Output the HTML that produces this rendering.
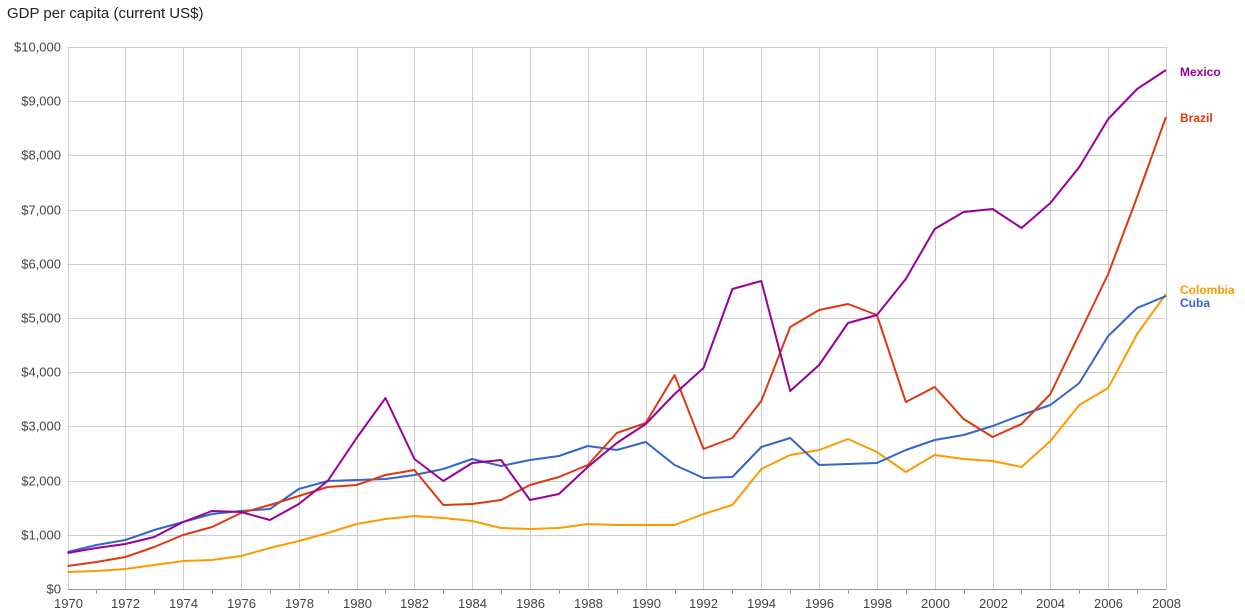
<!DOCTYPE html>
<html><head><meta charset="utf-8"><style>html,body{margin:0;padding:0;background:#fff}svg{display:block;font-family:"Liberation Sans",Arial,sans-serif}</style></head><body>
<svg width="1245" height="615" xmlns="http://www.w3.org/2000/svg">
<text x="7" y="18" font-size="15" fill="#222">GDP per capita (current US$)</text>
<g id="grid" stroke="#ccc" stroke-width="1"></g>
<g id="lbl" font-size="13" fill="#444"></g>
<g id="lines" fill="none" stroke-width="2" stroke-linejoin="round"></g>
<g font-size="12" font-weight="bold">
<text x="1180" y="76" fill="#990099">Mexico</text>
<text x="1180" y="122" fill="#dc3912">Brazil</text>
<text x="1180" y="294" fill="#ff9900">Colombia</text>
<text x="1180" y="307" fill="#3366cc">Cuba</text>
</g>
</svg>
<script>
var ns="http://www.w3.org/2000/svg",g=document.getElementById('grid'),l=document.getElementById('lbl'),L=document.getElementById('lines');
function el(p,t,a,txt){var e=document.createElementNS(ns,t);for(var k in a)e.setAttribute(k,a[k]);if(txt)e.textContent=txt;p.appendChild(e);return e;}
var x0=67.5,dx=(1166-67.5)/38,y0=589,dy=54.2;
for(var i=0;i<=10;i++){var y=Math.round(y0-i*dy)+.5;if(i>0)el(g,'line',{x1:x0,x2:1166.5,y1:y,y2:y});
el(l,'text',{x:61,y:y+4,'text-anchor':'end'},i==0?'$0':'$'+(i==10?'10,000':i+',000'));}
for(var yr=1970;yr<=2008;yr++){var x=Math.round(x0+(yr-1970)*dx)+.5;
if(yr%2==0){el(g,'line',{x1:x,x2:x,y1:47,y2:589});el(l,'text',{x:x,y:608,'text-anchor':'middle'},''+yr);}
else el(g,'line',{x1:x,x2:x,y1:589,y2:594,stroke:'#999'});}
el(g,'line',{x1:x0,x2:1166.5,y1:589.5,y2:589.5,stroke:'#999'});
var d={'#ff9900':[572,571,569,565,561,560,556,548,541,533,524,519,516,518,521,528,529,528,524,525,525,525,514,505,469,455,450,439,452,472,455,459,461,467,441,405,388,334,294],
'#3366cc':[552,545,540,530,522,514,511,509,489,481,480,479,475,469,459,466,460,456,446,450,442,465,478,477,447,438,465,464,463,450,440,435,426,415,405,383,336,308,296],
'#dc3912':[566,562,557,547,535,527,513,505,496,487,485,475,470,505,504,500,485,477,465,433,423,375,449,438,401,327,310,304,315,402,387,419,437,424,394,334,274,197,117],
'#990099':[553,548,544,537,522,511,512,520,504,481,438,398,459,481,463,460,500,494,467,443,424,394,368,289,281,391,365,323,315,279,229,212,209,228,203,167,119,89,70]};
for(var c in d){el(L,'polyline',{stroke:c,points:d[c].map(function(v,i){return (x0+i*dx).toFixed(1)+','+v}).join(' ')});}
</script>
</body></html>
